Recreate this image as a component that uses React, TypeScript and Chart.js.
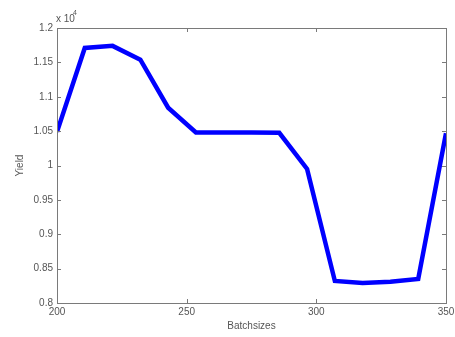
import React, { useEffect, useRef } from "react";
import { Chart, registerables } from "chart.js";

Chart.register(...registerables);

const batchSizes = [200, 210.71, 221.43, 232.14, 242.86, 253.57, 264.29, 275, 285.71, 296.43, 307.14, 317.86, 328.57, 339.29, 350];
const yieldValues = [10490, 11710, 11740, 11540, 10840, 10480, 10480, 10480, 10475, 9950, 8320, 8290, 8310, 8350, 10470];
const xTicks = [200, 250, 300, 350];
const yTicks = [8000, 8500, 9000, 9500, 10000, 10500, 11000, 11500, 12000];

const TEXT = "#555555";
const AXIS = "#7a7a7a";
const FONT = "Arial, 'Liberation Sans', sans-serif";

const matlabAxes = {
  id: "matlabAxes",
  afterDraw(chart: any) {
    const { ctx, chartArea: a, scales } = chart;
    const x = scales.x;
    const y = scales.y;
    ctx.save();
    ctx.strokeStyle = AXIS;
    ctx.lineWidth = 1;
    ctx.strokeRect(Math.round(a.left) + 0.5, Math.round(a.top) + 0.5, Math.round(a.right - a.left), Math.round(a.bottom - a.top));
    const tl = 4;
    ctx.beginPath();
    xTicks.forEach((v) => {
      const px = Math.round(x.getPixelForValue(v)) + 0.5;
      ctx.moveTo(px, a.bottom);
      ctx.lineTo(px, a.bottom - tl);
      ctx.moveTo(px, a.top);
      ctx.lineTo(px, a.top + tl);
    });
    yTicks.forEach((v) => {
      const py = Math.round(y.getPixelForValue(v)) + 0.5;
      ctx.moveTo(a.left, py);
      ctx.lineTo(a.left + tl, py);
      ctx.moveTo(a.right, py);
      ctx.lineTo(a.right - tl, py);
    });
    ctx.stroke();

    ctx.fillStyle = TEXT;
    ctx.font = `10px ${FONT}`;
    ctx.textAlign = "right";
    ctx.textBaseline = "middle";
    yTicks.forEach((v) => {
      ctx.fillText(String(v / 10000), a.left - 4, y.getPixelForValue(v));
    });
    ctx.textAlign = "center";
    ctx.textBaseline = "top";
    xTicks.forEach((v) => {
      ctx.fillText(String(v), x.getPixelForValue(v), a.bottom + 4);
    });

    ctx.textAlign = "left";
    ctx.textBaseline = "alphabetic";
    ctx.fillText("x 10", a.left - 1, a.top - 6);
    ctx.font = `7px ${FONT}`;
    ctx.fillText("4", a.left + 16, a.top - 13);

    ctx.font = `10px ${FONT}`;
    ctx.textAlign = "center";
    ctx.textBaseline = "middle";
    ctx.fillText("Batchsizes", (a.left + a.right) / 2, 326);
    ctx.translate(20, (a.top + a.bottom) / 2);
    ctx.rotate(-Math.PI / 2);
    ctx.fillText("Yield", 0, 0);
    ctx.restore();
  },
};

export default function App() {
  const ref = useRef<HTMLCanvasElement>(null);
  useEffect(() => {
    if (!ref.current) return;
    const chart = new Chart(ref.current, {
      type: "line",
      data: {
        datasets: [
          {
            data: batchSizes.map((b, i) => ({ x: b, y: yieldValues[i] })),
            borderColor: "#0000ff",
            borderWidth: 4.5,
            pointRadius: 0,
            tension: 0,
            fill: false,
          },
        ],
      },
      options: {
        animation: false,
        responsive: false,
        devicePixelRatio: 1,
        layout: { padding: { top: 28, right: 9, left: 0, bottom: 0 } },
        plugins: { legend: { display: false }, tooltip: { enabled: false } },
        scales: {
          x: {
            type: "linear",
            min: 200,
            max: 350,
            grid: { display: false, drawTicks: false },
            border: { display: false },
            ticks: { display: false },
            afterFit: (s: any) => { s.height = 34; },
          },
          y: {
            min: 8000,
            max: 12000,
            grid: { display: false, drawTicks: false },
            border: { display: false },
            ticks: { display: false },
            afterFit: (s: any) => { s.width = 57; },
          },
        },
      },
      plugins: [matlabAxes],
    });
    return () => chart.destroy();
  }, []);
  return (
    <div style={{ position: "absolute", left: 0, top: 0, width: 455, height: 337, background: "#fff" }}>
      <canvas ref={ref} width={455} height={337} style={{ display: "block" }} />
    </div>
  );
}
